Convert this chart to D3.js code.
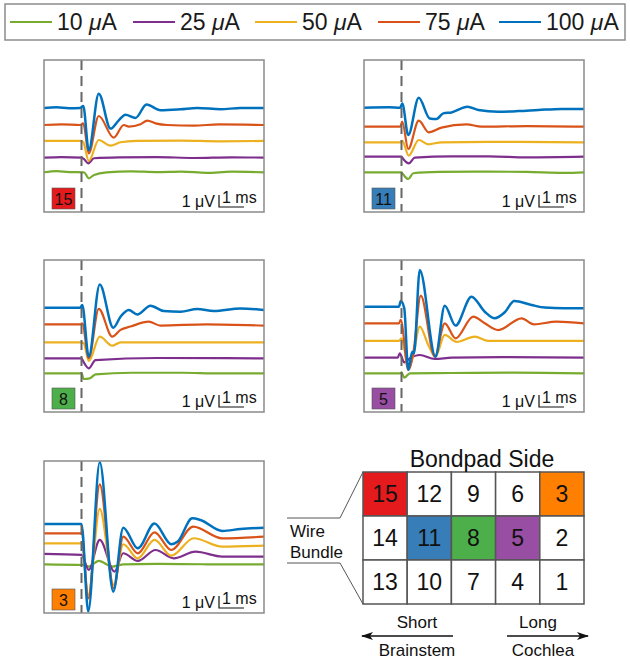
<!DOCTYPE html>
<html><head><meta charset="utf-8">
<script src="https://cdn.jsdelivr.net/npm/d3@7"></script>
<style>body{margin:0;background:#fff}svg{display:block;font-family:"Liberation Sans",Arial,Helvetica,sans-serif}</style>
</head><body><svg id="c" width="630" height="663"></svg>
<script>
// ---------- DATA ----------
const currents = ["10", "25", "50", "75", "100"];
const traceColors = ["#77AC30", "#7E2F8E", "#EDB120", "#D95319", "#0072BD"];
const electrodes = ["15", "11", "8", "5", "3"];
const electrodeColors = ["#E41A1C", "#377EB8", "#4DAF4A", "#984EA3", "#FF7F00"];
const timeDomain = [-1.5, 7.3]; // ms, stimulus at 0
const scaleBarMs = 1, scaleBarUV = 1;

// baseline of each trace (µV above panel bottom), order 10,25,50,75,100 µA
const offsets15 = [3.31, 4.53, 5.92, 7.25, 8.67];
const offsets11 = [3.31, 4.61, 5.81, 7.11, 8.69];
const offsets8  = [3.22, 4.47, 5.81, 7.31, 8.69];
const offsets5  = [3.22, 4.53, 5.92, 7.39, 8.78];
const offsets3  = [4.06, 4.92, 5.81, 6.64, 7.42];

// traces [time ms, µV]
const e15 = [
  [[-1.5,0],[-1.0,0.1],[-0.5,0.02],[0.1,0],[0.29,-0.5],[0.5,-0.22],[1.0,0],[2,0.08],[3,0.02],[4,0.06],[5,-0.05],[6,0.05],[7.3,0]],
  [[-1.5,0],[-0.8,0.05],[0,0],[0.09,-0.11],[0.27,-0.47],[0.5,-0.05],[1.5,0.03],[3,0.05],[4.5,-0.03],[6,0.03],[7.3,0]],
  [[-1.5,0],[-0.05,0],[0.07,-0.11],[0.29,-1.67],[0.69,0.08],[1.16,-0.39],[1.56,-0.11],[2.2,0],[4,0.03],[5.5,-0.03],[7.3,0]],
  [[-1.5,0],[-0.8,0.05],[-0.05,0],[0.07,0.14],[0.29,-2.36],[0.69,0.75],[1.29,-1.06],[1.69,0],[1.89,-0.14],[2.36,0.06],[2.63,0.36],[2.96,0.14],[3.43,0],[4.5,-0.05],[5.5,0.05],[7.3,0]],
  [[-1.5,0],[-1.0,0.05],[-0.5,-0.03],[-0.05,0],[0.07,0.17],[0.29,-3.53],[0.69,1.19],[1.16,-1.72],[1.49,-1.03],[1.76,-0.56],[2.16,-0.83],[2.6,0.28],[3.16,-0.19],[3.96,-0.11],[4.63,0],[5.56,-0.11],[6.36,0],[7.3,0]]
];
const e11 = [
  [[-1.5,0],[0,0],[0.03,-0.08],[0.27,-0.56],[0.47,-0.08],[1.5,0.03],[3,0.06],[5,0.03],[6.5,-0.05],[7.3,0]],
  [[-1.5,0],[0,0],[0.07,-0.19],[0.29,-0.56],[0.53,-0.08],[2,0.03],[3.5,0.03],[5,-0.06],[7.3,0]],
  [[-1.5,0],[-0.05,0],[0.03,0.11],[0.29,-1.11],[0.69,0.19],[1.07,-0.17],[1.6,0],[3.5,0.03],[7.3,0]],
  [[-1.5,0],[-0.05,0],[0.03,0.42],[0.27,-1.86],[0.69,0.5],[1.09,-0.47],[1.6,-0.08],[2.6,0.19],[3.2,0],[5,0.05],[7.3,0]],
  [[-1.5,0],[-0.5,0.03],[-0.05,0],[0.03,0.36],[0.27,-2.28],[0.69,0.83],[1.13,-0.89],[1.4,-0.94],[1.67,-0.47],[2.0,-0.39],[2.64,0.08],[3.07,-0.19],[3.87,-0.33],[4.67,-0.28],[5.47,-0.19],[6.4,-0.1],[7.3,-0.1]]
];
const e8 = [
  [[-1.5,0],[0,0],[0.09,-0.47],[0.33,-0.42],[0.56,-0.08],[2,0.05],[4,0.05],[5.5,0],[7.3,0]],
  [[-1.5,0],[0,0],[0.09,-0.33],[0.29,-0.83],[0.56,-0.14],[3,0.03],[7.3,0]],
  [[-1.5,0],[-0.05,0],[0.09,-0.08],[0.29,-1.56],[0.73,0.47],[1.23,-0.28],[1.56,0],[7.3,0]],
  [[-1.5,0],[-0.05,0],[0.03,0.08],[0.29,-2.83],[0.69,1.28],[1.23,-1.03],[1.56,-0.47],[1.96,-0.19],[2.69,0.22],[3.16,-0.11],[5,0],[7.3,-0.11]],
  [[-1.5,0],[-0.05,0],[0.03,0.22],[0.29,-4.08],[0.73,1.94],[1.27,-1.67],[1.56,-0.75],[1.89,-0.19],[2.23,-0.56],[2.76,0.17],[3.29,-0.28],[3.96,-0.33],[4.63,-0.11],[5.29,-0.28],[6.36,-0.06],[7.3,-0.19]]
];
const e5 = [
  [[-1.5,0],[-0.05,0],[0,0.08],[0.11,-0.36],[0.33,0],[2,0.03],[4.5,0.06],[7.3,0]],
  [[-1.5,0],[-0.15,0],[-0.07,0.36],[0.11,-0.39],[0.33,-0.06],[0.73,0.22],[1.33,-0.11],[2,0],[4,0.05],[7.3,0]],
  [[-1.5,0],[-0.1,0],[0,0.22],[0.29,-2.28],[0.47,-1.17],[0.73,1.19],[1.07,-0.33],[1.36,-1.31],[1.73,0.5],[2.2,-0.08],[2.93,0.36],[3.47,0],[7.3,0]],
  [[-1.5,0],[-0.1,0],[-0.03,0.28],[0.27,-3.89],[0.47,-2.5],[0.77,2.31],[1.33,-2.78],[1.73,0],[2.16,-1.25],[2.87,0.56],[3.33,0],[3.87,-0.56],[4.8,0.42],[5.3,-0.08],[6.2,0.14],[7.3,0]],
  [[-1.5,0],[-0.1,0],[-0.03,0.47],[0.11,-0.14],[0.27,-5.28],[0.43,-3.75],[0.5,-3.9],[0.73,3.06],[1.36,-4.17],[1.73,0.08],[2.16,-1.58],[2.8,0.83],[3.33,-0.42],[3.73,-0.97],[4.13,-0.47],[4.51,0.47],[5.2,0.14],[5.73,-0.08],[6.5,-0.14],[7.3,-0.14]]
];
const e3 = [
  [[-1.5,0],[0.09,-0.06],[0.29,-0.19],[0.69,0.28],[1.23,-0.19],[1.69,0],[3,0.03],[5,0],[7.3,0]],
  [[-1.5,0],[0,-0.08],[0.29,-1.33],[0.73,1.17],[1.32,-1.47],[1.67,0.06],[2.25,-0.58],[2.96,0.33],[3.69,-0.36],[4.56,0.19],[5.63,-0.22],[7.3,-0.22]],
  [[-1.5,0],[0,0],[0.27,-4.3],[0.73,2.86],[1.29,-3.47],[1.67,-0.08],[2.25,-1.25],[2.92,0.28],[3.59,-1.03],[4.49,0.42],[5.63,-0.28],[7.3,-0.19]],
  [[-1.5,0],[0,0],[0.27,-5.42],[0.73,4.08],[1.29,-4.58],[1.67,-0.28],[2.25,-1.67],[2.92,0.08],[3.59,-1.39],[4.47,0.56],[5.63,-0.42],[7.3,-0.28]],
  [[-1.5,0],[0,0],[0.27,-7.3],[0.73,5.14],[1.27,-5.64],[1.67,-0.31],[2.25,-2.03],[2.92,0.03],[3.59,-1.69],[3.85,-1.47],[4.43,0.47],[4.76,0.33],[5.63,-0.58],[6.36,-0.42],[7.3,-0.31]]
];

const gridRows = [["15","12","9","6","3"],["14","11","8","5","2"],["13","10","7","4","1"]];

// ---------- DRAW ----------
const svg = d3.select("#c");

// legend
const legendX = [10, 133, 255, 378, 499];
svg.append("rect").attr("x", 5).attr("y", 4).attr("width", 620).attr("height", 36)
  .attr("fill", "#fff").attr("stroke", "#8c8c8c").attr("stroke-width", 1.5);
currents.forEach((c, i) => {
  const g = svg.append("g").attr("transform", `translate(${legendX[i]},22)`);
  g.append("line").attr("x1", 0).attr("x2", 42).attr("y1", 0).attr("y2", 0)
    .attr("stroke", traceColors[i]).attr("stroke-width", 2);
  const t = g.append("text").attr("x", 47).attr("y", 8).attr("font-size", 23).attr("fill", "#1a1a1a");
  t.append("tspan").text(c + " ");
  t.append("tspan").attr("font-style", "italic").text("μ");
  t.append("tspan").text("A");
});

const panels = [
  {id: 0, x: 44, y: 60, data: e15, off: offsets15},
  {id: 1, x: 364, y: 60, data: e11, off: offsets11},
  {id: 2, x: 44, y: 260, data: e8, off: offsets8},
  {id: 3, x: 364, y: 260, data: e5, off: offsets5},
  {id: 4, x: 44, y: 461, data: e3, off: offsets3}
];
const PW = 220, PH = 152, PXPERUV = 12;

panels.forEach(p => {
  const x = d3.scaleLinear().domain(timeDomain).range([p.x, p.x + PW]);
  const y = d3.scaleLinear().domain([0, PH / PXPERUV]).range([p.y + PH, p.y]);
  const clipId = "clip" + p.id;
  svg.append("clipPath").attr("id", clipId).append("rect")
    .attr("x", p.x).attr("y", p.y).attr("width", PW).attr("height", PH);
  const g = svg.append("g");
  const line = d3.line().curve(d3.curveMonotoneX);
  const tg = g.append("g").attr("clip-path", `url(#${clipId})`);
  p.data.forEach((tr, i) => {
    tg.append("path")
      .attr("d", line(tr.map(d => [x(d[0]), y(p.off[i] + d[1])])))
      .attr("fill", "none").attr("stroke", traceColors[i])
      .attr("stroke-width", i === 4 ? 2.5 : 2.2).attr("stroke-linejoin", "round");
  });
  g.append("line").attr("x1", x(0)).attr("x2", x(0)).attr("y1", p.y).attr("y2", p.y + PH)
    .attr("stroke", "#666").attr("stroke-width", 2).attr("stroke-dasharray", "10,6");
  g.append("rect").attr("x", p.x).attr("y", p.y).attr("width", PW).attr("height", PH)
    .attr("fill", "none").attr("stroke", "#8a8a8a").attr("stroke-width", 1.5);
  g.append("rect").attr("x", p.x + 8).attr("y", p.y + PH - 24).attr("width", 23).attr("height", 21)
    .attr("fill", electrodeColors[p.id]).attr("stroke", "#555").attr("stroke-width", 0.6);
  g.append("text").attr("x", p.x + 19.5).attr("y", p.y + PH - 7.5).attr("text-anchor", "middle")
    .attr("font-size", 16).attr("fill", "#111").text(electrodes[p.id]);
  const bx = p.x + PW - 45, by = p.y + PH - 5;
  const x0 = x(0), x1 = x(scaleBarMs);
  const y0 = y(0), y1 = y(scaleBarUV);
  g.append("path")
    .attr("d", `M${bx},${by - (y0 - y1)}L${bx},${by}L${bx + (x1 - x0)},${by}`)
    .attr("fill", "none").attr("stroke", "#111").attr("stroke-width", 1.2);
  g.append("text").attr("x", bx - 4).attr("y", by).attr("text-anchor", "end")
    .attr("font-size", 16).attr("fill", "#111").text("1 μV");
  g.append("text").attr("x", bx + 3).attr("y", by - 4)
    .attr("font-size", 16).attr("fill", "#111").text("1 ms");
});

// electrode grid
const gx = d3.scaleBand().domain(d3.range(5)).range([363, 584]);
const gy = d3.scaleBand().domain(d3.range(3)).range([472, 604]);
const colorOf = new Map(electrodes.map((e, i) => [e, electrodeColors[i]]));
const gridG = svg.append("g");
gridRows.forEach((row, r) => row.forEach((lab, c) => {
  gridG.append("rect").attr("x", gx(c)).attr("y", gy(r))
    .attr("width", gx.bandwidth()).attr("height", gy.bandwidth())
    .attr("fill", colorOf.get(lab) || "#fff").attr("stroke", "#555").attr("stroke-width", 1.5);
  gridG.append("text").attr("x", gx(c) + gx.bandwidth() / 2).attr("y", gy(r) + gy.bandwidth() / 2 + 8)
    .attr("text-anchor", "middle").attr("font-size", 23).attr("fill", "#111").text(lab);
}));
svg.append("text").attr("x", 482).attr("y", 467).attr("text-anchor", "middle")
  .attr("font-size", 23).attr("fill", "#111").text("Bondpad Side");
svg.append("path").attr("d", "M363,472L340,518L287,518M363,604L340,563L287,563")
  .attr("fill", "none").attr("stroke", "#555").attr("stroke-width", 1);
svg.append("text").attr("x", 290).attr("y", 537).attr("font-size", 17).attr("fill", "#111").text("Wire");
svg.append("text").attr("x", 290).attr("y", 558).attr("font-size", 17).attr("fill", "#111").text("Bundle");
const defs = svg.append("defs");
defs.append("marker").attr("id", "ah").attr("viewBox", "0 0 12 8").attr("refX", 11).attr("refY", 4)
  .attr("markerWidth", 12).attr("markerHeight", 8).attr("markerUnits", "userSpaceOnUse").attr("orient", "auto")
  .append("path").attr("d", "M0,0L12,4L0,8L3,4Z").attr("fill", "#111");
svg.append("line").attr("x1", 453).attr("x2", 362).attr("y1", 636).attr("y2", 636)
  .attr("stroke", "#111").attr("stroke-width", 1.3).attr("marker-end", "url(#ah)");
svg.append("line").attr("x1", 507).attr("x2", 588).attr("y1", 636).attr("y2", 636)
  .attr("stroke", "#111").attr("stroke-width", 1.3).attr("marker-end", "url(#ah)");
[["Short", 417, 628], ["Brainstem", 417, 656], ["Long", 538, 628], ["Cochlea", 543, 656]].forEach(d => {
  svg.append("text").attr("x", d[1]).attr("y", d[2]).attr("text-anchor", "middle")
    .attr("font-size", 17).attr("fill", "#111").text(d[0]);
});
</script></body></html>
